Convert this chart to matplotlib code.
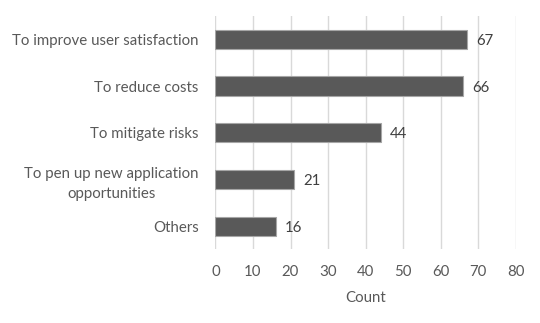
import matplotlib
matplotlib.use("Agg")
import matplotlib.pyplot as plt

categories = ["To improve user satisfaction", "To reduce costs", "To mitigate risks",
              "To pen up new application\nopportunities", "Others"]
counts = [67, 66, 44, 21, 16]
xticks = [0, 10, 20, 30, 40, 50, 60, 70, 80]

plt.rcParams['font.family'] = ['Lato', 'DejaVu Sans']
txt = '#595959'
fs = 10.8

fig = plt.figure(figsize=(5.4, 3.23), dpi=100)
ax = fig.add_axes([0.399, 0.2276, 0.556, 0.723])

ypos = list(range(len(categories)))
ax.barh(ypos, counts, height=0.41, color='#595959', edgecolor='#a6a6a6', linewidth=0.8, zorder=3)
for y, v in zip(ypos, counts):
    ax.text(v + 2.4, y, str(v), va='center_baseline', ha='left', fontsize=fs, color='#404040')

ax.set_ylim(4.5, -0.5)
ax.set_xlim(0, 80)
ax.set_xticks(xticks)
ax.set_yticks(ypos)
ax.set_yticklabels(categories, fontsize=fs, color=txt, multialignment='center', linespacing=1.55)
ax.tick_params(axis='x', labelsize=fs, labelcolor=txt, length=0, pad=11.5)
ax.tick_params(axis='y', length=0, pad=12)
ax.grid(axis='x', color='#d9d9d9', linewidth=1, zorder=0)
for s in ax.spines.values():
    s.set_visible(False)
ax.set_xlabel("Count", fontsize=fs, color=txt, labelpad=8)

fig.savefig("out.png", dpi=100)
